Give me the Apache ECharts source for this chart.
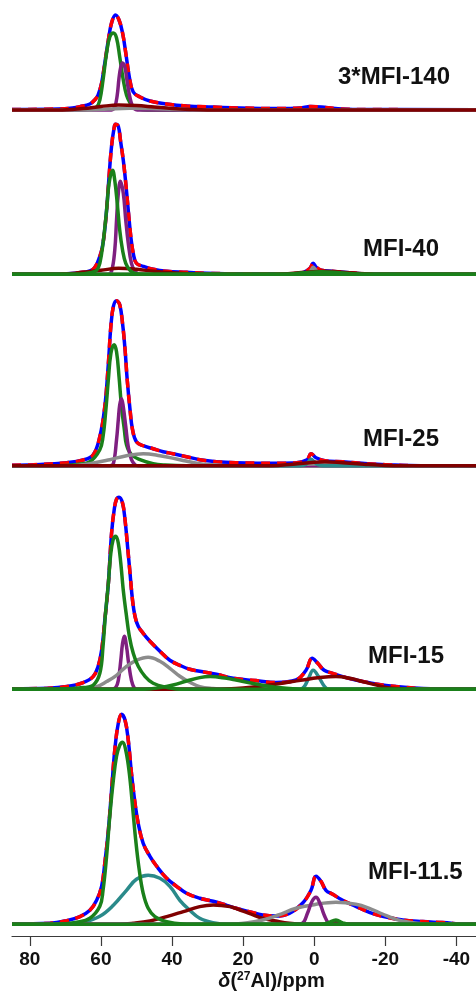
<!DOCTYPE html>
<html>
<head>
<meta charset="utf-8">
<script src="https://cdn.jsdelivr.net/npm/echarts@6/dist/echarts.min.js"></script>
<style>
  html, body { margin: 0; padding: 0; background: #fff; }
  #chart { width: 476px; height: 997px; }
</style>
</head>
<body>
<div id="chart"></div>
<script>
// * 27Al MAS NMR spectra with fitted components, 5 samples stacked
// points are [ppm, intensity (a.u.)]

// ? x axis
const ppmMin = -45.5
const ppmMax = 85
const ppmTicks = [80, 60, 40, 20, 0, -20, -40]
const sampleNames = ['3*MFI-140', 'MFI-40', 'MFI-25', 'MFI-15', 'MFI-11.5']

// ? 3*MFI-140
const p1Total = [[85,0.5],[72,1],[68,2],[65.9,3.3],[63.1,6],[61.5,11],[60.8,15],[59.8,27],[58.9,47],[57.9,70],[57.0,87],[55.9,95],[54.9,90],[53.9,77],[53.0,57],[52.0,33],[50.9,18],[49.0,13],[46.2,9],[41.5,6],[35.9,4],[28.5,3],[20.9,2],[10,1.5],[4,2],[1,3.5],[-2,3],[-6,1.5],[-12,0.5],[-45.5,0.3]]
const p1Green = [[85,0],[66,0],[63,1],[61.2,3],[60.3,10],[59.4,30],[58.4,57],[57.5,73],[56.5,77],[55.6,72],[54.7,53],[53.7,30],[52.8,15],[51.8,7],[50.9,3],[49.5,1],[47,0],[-45.5,0]]
const p1Purple = [[85,0],[57,0],[56.1,3],[55.4,15],[54.9,32],[54.4,43],[53.9,47],[53.2,42],[52.6,28],[51.8,12],[51.1,4],[50.2,0.5],[49,0],[-45.5,0]]
const p1Gray = [[85,0],[65,0],[58,1],[52,1.8],[46,1.5],[38,0.5],[30,0],[-45.5,0]]
const p1DarkRed = [[85,0],[72,0],[65,1.5],[60,3.5],[55,5],[50,4.5],[45,3],[40,1.5],[35,0.5],[30,0],[-45.5,0]]

// ? MFI-40
const p2Total = [[85,0.3],[69.6,0.5],[65,2],[62.2,5],[60.3,18],[59.4,31],[58.4,64],[57.7,98],[57.0,128],[56.3,146],[55.9,150],[55.1,148],[54.5,134],[53.7,114],[53.0,91],[52.3,64],[51.6,38],[50.9,21],[50.0,11],[48.1,8],[45.3,5],[41.5,3],[35.9,2],[30.3,1],[20,0.5],[6,0.5],[3,2],[1.2,6],[0.3,11],[-0.6,7],[-2,4],[-5,3],[-10,1.5],[-15,0.5],[-45.5,0]]
const p2Green = [[85,0],[66,0],[63,1.5],[61.2,4],[60.3,11],[59.4,31],[58.4,64],[57.7,91],[56.7,104],[56.1,94],[55.4,71],[54.7,44],[53.9,24],[53.0,11],[51.8,4],[50.6,1],[48,0],[-45.5,0]]
const p2Green2 = [[85,0],[8,0],[3,1.5],[-2,2.5],[-7,1.5],[-14,0],[-45.5,0]]
const p2Purple = [[85,0],[58,0],[57.0,3],[56.1,24],[55.6,54],[55.1,81],[54.5,93],[53.7,81],[53.0,54],[52.3,31],[51.4,11],[50.4,3],[49,0],[-45.5,0]]
const p2Gray = [[85,0],[4,0],[2,1],[1,3.5],[0.3,7],[-0.5,4],[-1.5,1],[-3,0],[-45.5,0]]
const p2DarkRed = [[85,0],[72,0],[65,2],[60,4],[55,6],[50,5],[45,3],[40,1.5],[33,0.3],[28,0],[10,0],[3,2],[-3,3],[-10,1.5],[-18,0],[-45.5,0]]

// ? MFI-25
const p3Total = [[85,0.5],[79,1],[69.6,3],[65.0,5.7],[62.2,10.7],[60.3,29],[58.9,59],[57.9,102],[57.2,139],[56.5,159],[55.6,165],[54.7,161],[53.9,142],[53.2,116],[52.6,86],[51.8,56],[51.1,36],[50.0,24],[48.1,20],[45.3,17],[42.5,14],[39.7,12],[35.9,9],[32.2,6],[27.5,4],[22,3],[10,2.5],[5,3],[2,6],[0.9,12],[-0.5,8],[-3,5],[-8,4],[-15,2],[-20,1],[-30,0],[-45.5,0]]
const p3Green = [[85,0],[72,0],[66.8,1.3],[63.1,4],[60.3,16],[59.4,29],[58.7,52],[57.9,86],[57.2,112],[56.3,121],[55.6,114],[54.9,89],[54.2,59],[53.4,36],[52.8,21],[51.4,11],[49.0,6],[45.3,2],[42,0.7],[36,0],[-45.5,0]]
const p3Purple = [[85,0],[57.5,0],[56.5,2],[55.6,26],[55.1,46],[54.7,61],[54.2,67],[53.7,59],[53.0,39],[52.3,19],[51.4,6],[50.4,1],[49.5,0],[-45.5,0]]
const p3Gray = [[85,0],[68,0],[63.1,2],[57.5,6],[52.8,10],[48.1,12],[43.4,10],[37.8,6],[32.2,2],[27.5,0.7],[22,0],[10,0],[3,1.5],[-3,2],[-10,1],[-16,0],[-45.5,0]]
const p3Teal = [[85,0],[4,0],[2.5,1],[1.7,3.5],[0.9,6.5],[0,4],[-1,1],[-2.5,0],[-45.5,0]]
const p3DarkRed = [[85,0],[12,0],[6,1.5],[0,3.5],[-3,4],[-8,3],[-14,1.5],[-20,0.3],[-25,0],[-45.5,0]]

// ? MFI-15
const p4Total = [[85,0.5],[75,1],[69.6,2.7],[65.0,6.7],[62.2,12.7],[60.8,22.7],[59.8,39],[58.9,69],[57.9,106],[57.0,156],[56.2,181],[55.6,190],[54.9,192],[53.9,186],[53.2,169],[52.5,143],[51.8,116],[51.1,89],[50.4,73],[49.5,63],[48.1,56],[46.2,48],[43.4,38],[40.6,29],[37.8,24],[35.0,20],[32.2,18],[27.5,15],[22.8,11],[16.4,8.7],[10.8,6.7],[5.1,9.3],[2.3,19],[0.6,31],[-1.0,26],[-2.8,19],[-5.2,16],[-8.0,12.7],[-11.7,9.3],[-17.4,5.3],[-23.0,2.7],[-30.5,0.7],[-40,0],[-45.5,0]]
const p4Green = [[85,0],[72,0],[65.0,1.7],[62.2,4],[60.3,16],[59.4,43],[58.7,76],[57.9,106],[57.3,133],[56.6,149],[55.8,153],[55.1,146],[54.4,126],[53.7,99],[52.9,76],[52.0,53],[50.9,36],[49.5,23],[47.6,13],[45.3,6],[41.5,2],[37,0],[-45.5,0]]
const p4Purple = [[85,0],[57,0],[55.8,2],[55.1,9],[54.4,29],[53.9,46],[53.4,53],[52.8,43],[52.2,26],[51.4,9],[50.7,2],[50,0],[-45.5,0]]
const p4Gray = [[85,0],[66,0],[61.2,2.7],[58.4,7.7],[55.6,14],[52.8,23],[50.0,29],[46.7,32],[43.4,28],[40.6,21],[37.8,13],[35.0,7],[32.2,2.7],[28.5,0.7],[25,0],[-45.5,0]]
const p4Green2 = [[85,0],[48,0],[43.4,1.7],[39.7,4.3],[35.9,8.3],[32.2,11.7],[29.3,12.7],[24.6,11],[22.0,9.3],[16.4,5.3],[10.8,2],[5.1,0.3],[0,0],[-45.5,0]]
const p4DarkRed = [[85,0],[28,0],[22,0.7],[12.7,4.3],[3.3,9.3],[-1,11.5],[-6.1,12.7],[-10,11],[-13.6,7.7],[-19.2,2.7],[-23,0.7],[-28,0],[-45.5,0]]
const p4Teal = [[85,0],[4,0],[2.8,2.7],[1.6,11],[0.3,19],[-1.2,12.7],[-2.8,3.3],[-4,0],[-45.5,0]]

// ? MFI-11.5
const p5Total = [[85,0.3],[74.3,1],[69.6,3.7],[65.9,7.7],[63.1,14],[61.2,24],[59.8,38],[58.9,61],[57.9,94],[57.0,134],[56.1,174],[55.1,201],[54.2,210],[53.2,204],[52.3,184],[51.4,151],[50.4,121],[49.5,101],[48.1,81],[46.2,68],[44.3,58],[41.5,46],[38.7,38],[35.9,31],[32.2,26],[28.4,23],[24.6,19],[22.0,16],[18.3,12.7],[14.5,9.3],[10.8,8.3],[7.0,11],[3.3,21],[0.9,34],[-0.5,48],[-1.9,43],[-3.3,34],[-5.2,30],[-8.0,24],[-11.7,18],[-15.5,12],[-19.2,8],[-24.9,4.3],[-30.5,2.7],[-36.1,1.7],[-43.6,0],[-45.5,0]]
const p5Green = [[85,0],[72,0],[66.8,2],[63.1,6],[60.3,18],[59.4,34],[58.4,68],[57.5,108],[56.5,144],[55.6,168],[54.7,179],[53.9,182],[53.0,174],[52.0,151],[51.1,118],[50.2,84],[49.2,54],[48.1,31],[46.7,16],[44.8,7.7],[41.5,2.7],[37,0.3],[32,0],[-45.5,0]]
const p5Green2 = [[85,0],[-2,0],[-4,1.5],[-6.1,4.3],[-8,1.5],[-10,0],[-45.5,0]]
const p5Teal = [[85,0],[70,0.3],[65.0,2],[60.3,8],[56.5,19],[52.8,34],[50.0,45],[46.7,49],[43.4,46],[40.6,38],[37.8,24],[35.0,14],[32.2,6],[28.5,1.7],[24,0],[-45.5,0]]
const p5DarkRed = [[85,0],[55,0],[50.9,1],[46.2,3.3],[41.5,7.7],[36.8,12.7],[32.2,17.7],[28.4,19.3],[23.7,17.7],[20.9,14.3],[18.3,11],[14.5,6],[10.8,3.3],[7.0,1],[3,0],[-3,0],[-6,1.5],[-9,0],[-45.5,0]]
const p5Gray = [[85,0],[25,0],[18.3,1.7],[14.5,4.3],[10.1,9.3],[5.1,16],[-0.5,20],[-6.1,22],[-11.7,20],[-15.5,16],[-19.2,10.3],[-23.0,5],[-26.7,2],[-31,0.3],[-35,0],[-45.5,0]]
const p5Purple = [[85,0],[5,0],[3.3,1],[1.9,11],[0.6,23],[-0.5,27],[-1.6,21],[-2.8,9.3],[-4.1,1],[-5.5,0],[-45.5,0]]

// ? colours
const colors = {
  exp: '#0000ff',
  fit: '#ff0000',
  green: '#1a801a',
  purple: '#7f1f80',
  gray: '#8c8c8c',
  teal: '#2a8a8a',
  darkred: '#800000'
}

// ? panels - components are listed in drawing order (last one on top)
const panels = [
  { total: p1Total, comps: [['green', p1Green], ['purple', p1Purple], ['gray', p1Gray], ['darkred', p1DarkRed]] },
  { total: p2Total, comps: [['purple', p2Purple], ['gray', p2Gray], ['darkred', p2DarkRed], ['green', p2Green], ['green', p2Green2]] },
  { total: p3Total, comps: [['green', p3Green], ['purple', p3Purple], ['gray', p3Gray], ['teal', p3Teal], ['darkred', p3DarkRed]] },
  { total: p4Total, comps: [['purple', p4Purple], ['gray', p4Gray], ['teal', p4Teal], ['darkred', p4DarkRed], ['green', p4Green], ['green', p4Green2]] },
  { total: p5Total, comps: [['teal', p5Teal], ['darkred', p5DarkRed], ['gray', p5Gray], ['purple', p5Purple], ['green', p5Green], ['green', p5Green2]] }
]

// ? layout (pixels): baseline of each panel, room above it, room below it
const layout = [
  { baseline: 110, above: 105, below: 10 },
  { baseline: 274.3, above: 160, below: 10 },
  { baseline: 465.7, above: 175, below: 10 },
  { baseline: 689.3, above: 200, below: 10 },
  { baseline: 924.3, above: 215, below: 11.7 }
]
const labelPos = [[338, 77.5], [363, 249], [363, 439], [368, 656.5], [368, 872]]

const lineChart = echarts.init(document.getElementById('chart'))

const grid = []
const xAxis = []
const yAxis = []
const series = []

panels.forEach((p, i) => {
  const l = layout[i]
  const isLast = i === panels.length - 1
  grid.push({ left: 12, right: 0, top: l.baseline - l.above, height: l.above + l.below })
  xAxis.push({
    gridIndex: i,
    type: 'value',
    inverse: true,
    min: ppmMin,
    max: ppmMax,
    show: isLast,
    splitLine: { show: false },
    axisLine: { show: true, onZero: false, lineStyle: { color: '#3a3a3a', width: 1.2 } },
    axisTick: { show: true, length: 10, customValues: ppmTicks, lineStyle: { color: '#3a3a3a', width: 1.2 } },
    axisLabel: {
      show: true,
      customValues: ppmTicks,
      margin: 14,
      color: '#111',
      fontSize: 19,
      fontWeight: 'bold',
      fontFamily: 'Liberation Sans, Arial, sans-serif'
    }
  })
  yAxis.push({ gridIndex: i, type: 'value', show: false, min: -l.below, max: l.above })

  const base = {
    type: 'line',
    xAxisIndex: i,
    yAxisIndex: i,
    symbol: 'none',
    smooth: 0.4,
    clip: false,
    silent: true
  }
  // experimental (blue) + fit (red dashed)
  series.push(Object.assign({}, base, { data: p.total, lineStyle: { color: colors.exp, width: 3.5 } }))
  series.push(Object.assign({}, base, { data: p.total, lineStyle: { color: colors.fit, width: 3.5, type: [9, 7] } }))
  // fitted components
  p.comps.forEach(c => {
    series.push(Object.assign({}, base, { data: c[1], lineStyle: { color: colors[c[0]], width: 3.5 } }))
  })
})

const graphic = sampleNames.map((name, i) => ({
  type: 'text',
  x: labelPos[i][0],
  y: labelPos[i][1],
  style: {
    text: name,
    font: 'bold 24px "Liberation Sans", Arial, sans-serif',
    fill: '#111',
    align: 'left',
    verticalAlign: 'middle'
  }
}))
graphic.push({
  type: 'text',
  x: 271.5,
  y: 981,
  style: {
    text: '{d|δ}{n|(}{s|27}{n|Al)/ppm}',
    align: 'center',
    verticalAlign: 'middle',
    rich: {
      d: { font: 'italic bold 20px "Liberation Sans", Arial, sans-serif', fill: '#111', verticalAlign: 'bottom' },
      n: { font: 'bold 20px "Liberation Sans", Arial, sans-serif', fill: '#111', verticalAlign: 'bottom' },
      s: { font: 'bold 12px "Liberation Sans", Arial, sans-serif', fill: '#111', verticalAlign: 'top' }
    }
  }
})

const lineOption = {
  animation: false,
  backgroundColor: '#fff',
  grid,
  xAxis,
  yAxis,
  series,
  graphic
}

lineChart.setOption(lineOption)
</script>
</body>
</html>
